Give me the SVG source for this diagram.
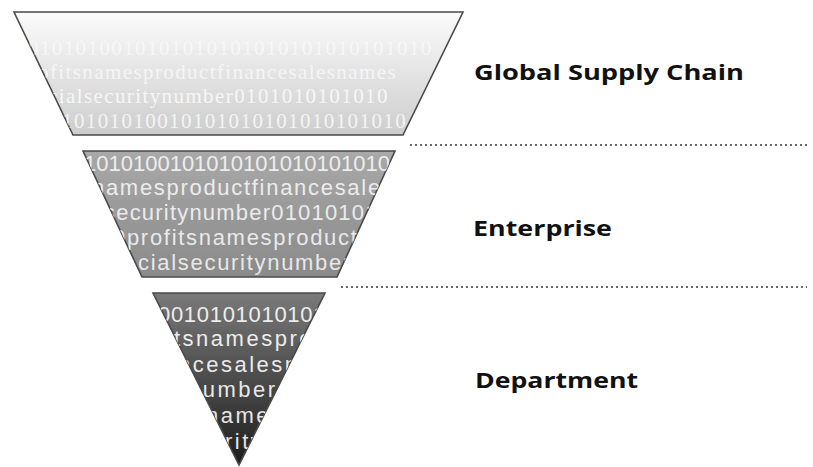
<svg xmlns="http://www.w3.org/2000/svg" width="813" height="467" viewBox="0 0 813 467">
<style>
.lbl{font-family:"Open Sans","Liberation Sans",sans-serif;font-weight:bold;font-size:22px;fill:#111}
.shape{stroke:#4a4a4a;stroke-width:1.6;stroke-linejoin:miter}
.t1{font-family:"Liberation Serif",serif;font-size:21px;fill:#fff;letter-spacing:1.4px}
.t2{font-family:"Liberation Sans",sans-serif;font-size:22px;fill:#fff;opacity:0.8}
.t3{font-family:"Liberation Sans",sans-serif;font-size:22px;fill:#fff;opacity:0.88}
.ls{letter-spacing:1.7px}
.ls3{letter-spacing:2.5px}
.dot{stroke:#6a6a6a;stroke-width:2;stroke-dasharray:2 3;fill:none}
</style>
<defs>
<linearGradient id="g1" x1="0" y1="0" x2="0" y2="1">
<stop offset="0" stop-color="#fbfbfb"/>
<stop offset="1" stop-color="#cdcdcd"/>
</linearGradient>
<linearGradient id="g2" x1="0" y1="0" x2="0" y2="1">
<stop offset="0" stop-color="#a9a9a9"/>
<stop offset="1" stop-color="#8a8a8a"/>
</linearGradient>
<linearGradient id="g3" x1="0" y1="0" x2="0" y2="1">
<stop offset="0" stop-color="#7a7a7a"/>
<stop offset="1" stop-color="#1e1e1e"/>
</linearGradient>
<clipPath id="c1"><polygon points="14,12 463,12 403,135 73,135"/></clipPath>
<clipPath id="c2"><polygon points="83,151 395,151 337,277 142,277"/></clipPath>
<clipPath id="c3"><polygon points="153,293 325,293 239,465"/></clipPath>
</defs>

<g id="connectors">
<line class="dot" x1="410" y1="145" x2="807" y2="145"/>
<line class="dot" x1="341" y1="287" x2="807" y2="287"/>
</g>

<g id="global-supply-chain">
<polygon class="shape" points="14,12 463,12 403,135 73,135" fill="url(#g1)"/>
<g clip-path="url(#c1)">
<text class="t1" x="28" y="55" opacity="0.55">0101010010101010101010101010101010</text>
<text class="t1" x="38" y="79" opacity="0.6">ofitsnamesproductfinancesalesnames</text>
<text class="t1" x="48" y="103" opacity="0.75">cialsecuritynumber0101010101010</text>
<text class="t1" x="62" y="128" opacity="0.75">10101010010101010101010101010</text>
</g>
<text class="lbl" x="474" y="80" textLength="270" lengthAdjust="spacingAndGlyphs">Global Supply Chain</text>
</g>

<g id="enterprise">
<polygon class="shape" points="83,151 395,151 337,277 142,277" fill="url(#g2)"/>
<g clip-path="url(#c2)">
<text class="t2" x="84" y="171">10101001010101010101010101010</text>
<text class="t2 ls" x="92" y="195">namesproductfinancesalesname</text>
<text class="t2" x="104" y="220" letter-spacing="1.2">securitynumber01010101010</text>
<text class="t2 ls" x="113" y="245">0profitsnamesproductfinance</text>
<text class="t2 ls" x="138" y="270">cialsecuritynumber0101</text>
</g>
<text class="lbl" x="473" y="236" textLength="139" lengthAdjust="spacingAndGlyphs">Enterprise</text>
</g>

<g id="department">
<polygon class="shape" points="153,293 325,293 239,465" fill="url(#g3)"/>
<g clip-path="url(#c3)">
<text class="t3" x="158" y="322" letter-spacing="0.7">0010101010101010</text>
<text class="t3 ls3" x="174" y="346">tsnamesproduct</text>
<text class="t3 ls3" x="178" y="372">ncesalesname</text>
<text class="t3 ls3" x="188" y="397">numbers</text>
<text class="t3 ls3" x="206" y="423">names</text>
<text class="t3 ls3" x="225" y="449">rity</text>
</g>
<text class="lbl" x="475" y="388" textLength="163" lengthAdjust="spacingAndGlyphs">Department</text>
</g>
</svg>
